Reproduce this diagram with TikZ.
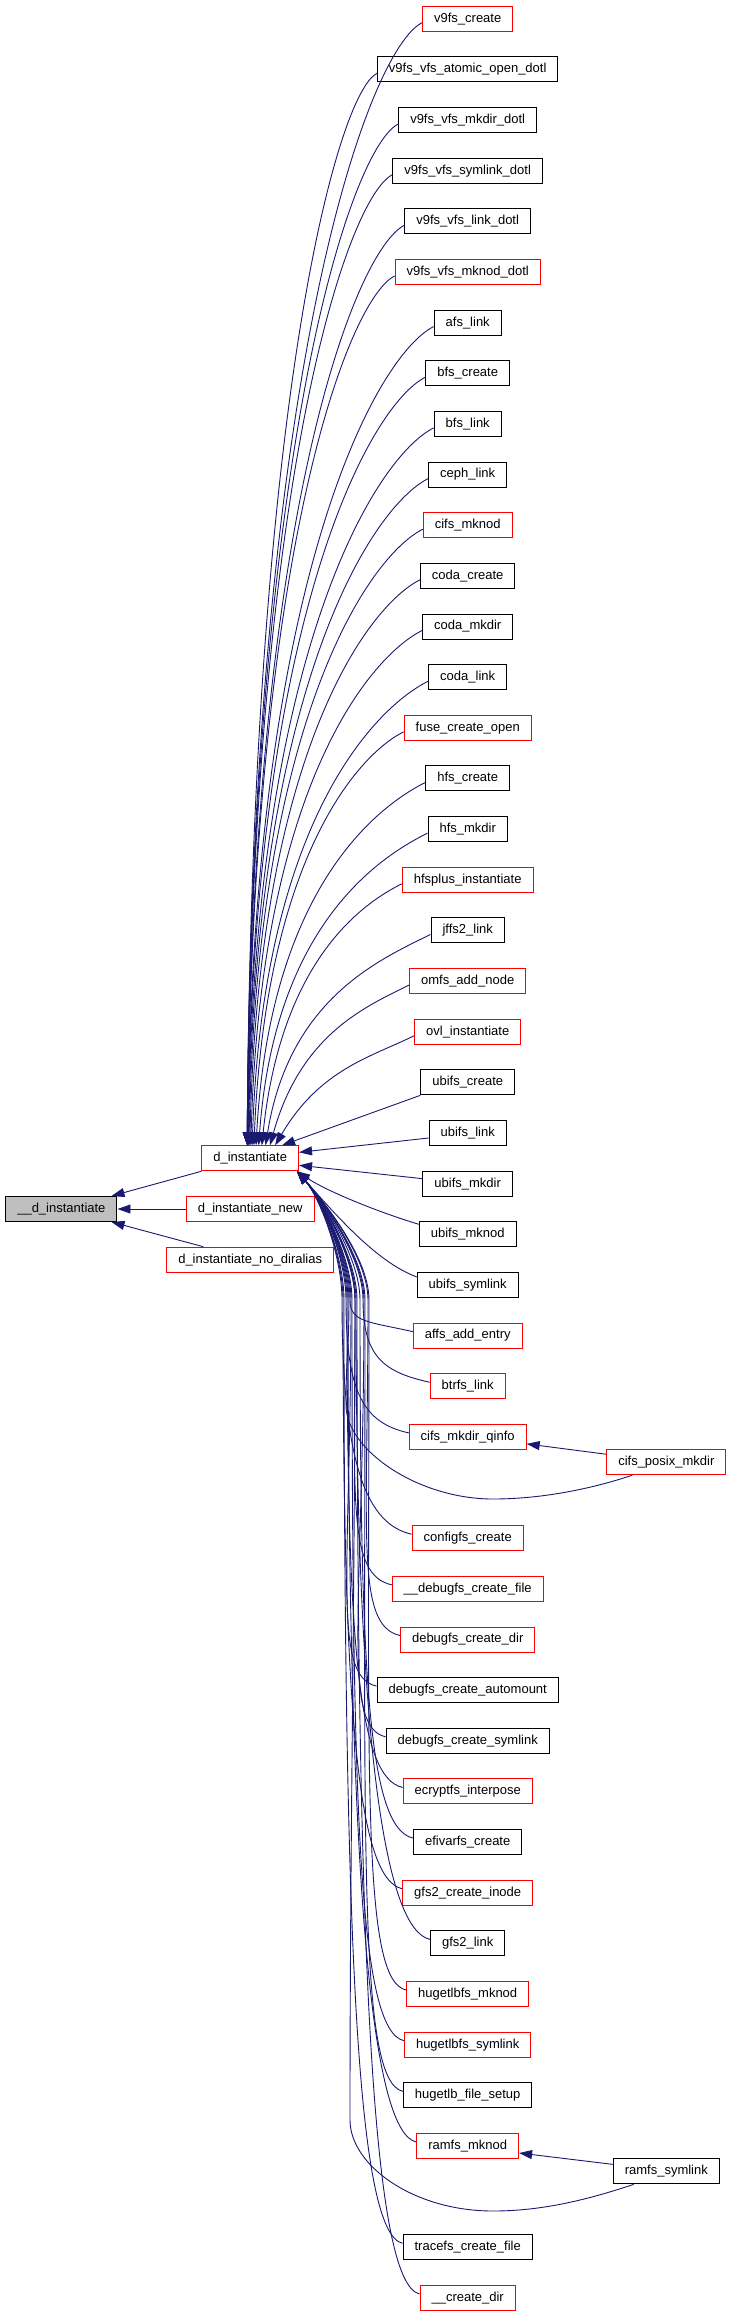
\documentclass[tikz,border=0pt]{standalone}
\usepackage{fontspec}
\setmainfont{Liberation Sans}
\usetikzlibrary{arrows.meta,calc}

\definecolor{callblue}{RGB}{25,25,112}
\definecolor{curgrey}{RGB}{191,191,191}

\tikzset{
  fn/.style={draw=black, fill=white, line width=1pt, inner xsep=11.5pt, inner ysep=0pt,
    minimum height=25pt, font=\fontsize{13}{15}\selectfont},
  fnred/.style={fn, draw=red},
  fncur/.style={fn, fill=curgrey},
  call/.style={draw=callblue, line width=0.9pt, -{Triangle[length=13pt,width=9pt]}},
}

\begin{document}
\begin{tikzpicture}[x=1pt,y=1pt]
\useasboundingbox (0,0) rectangle (732,-2317);

% the function and its direct callers
\node[fncur] (__d_instantiate) at (61.4,-1209) {\_\_d\_instantiate};
\node[fnred] (d_instantiate) at (250.2,-1158.3) {d\_instantiate};
\node[fnred] (d_instantiate_new) at (250.2,-1209) {d\_instantiate\_new};
\node[fnred] (d_instantiate_no_diralias) at (250.2,-1259.7) {d\_instantiate\_no\_diralias};

% callers of d_instantiate, one per row
\foreach \row/\nm/\lbl/\sty in {
  0/v9fs_create/v9fs\_create/fnred,
  1/v9fs_vfs_atomic_open_dotl/v9fs\_vfs\_atomic\_open\_dotl/fn,
  2/v9fs_vfs_mkdir_dotl/v9fs\_vfs\_mkdir\_dotl/fn,
  3/v9fs_vfs_symlink_dotl/v9fs\_vfs\_symlink\_dotl/fn,
  4/v9fs_vfs_link_dotl/v9fs\_vfs\_link\_dotl/fn,
  5/v9fs_vfs_mknod_dotl/v9fs\_vfs\_mknod\_dotl/fnred,
  6/afs_link/afs\_link/fn,
  7/bfs_create/bfs\_create/fn,
  8/bfs_link/bfs\_link/fn,
  9/ceph_link/ceph\_link/fn,
  10/cifs_mknod/cifs\_mknod/fnred,
  11/coda_create/coda\_create/fn,
  12/coda_mkdir/coda\_mkdir/fn,
  13/coda_link/coda\_link/fn,
  14/fuse_create_open/fuse\_create\_open/fnred,
  15/hfs_create/hfs\_create/fn,
  16/hfs_mkdir/hfs\_mkdir/fn,
  17/hfsplus_instantiate/hfsplus\_instantiate/fnred,
  18/jffs2_link/jffs2\_link/fn,
  19/omfs_add_node/omfs\_add\_node/fnred,
  20/ovl_instantiate/ovl\_instantiate/fnred,
  21/ubifs_create/ubifs\_create/fn,
  22/ubifs_link/ubifs\_link/fn,
  23/ubifs_mkdir/ubifs\_mkdir/fn,
  24/ubifs_mknod/ubifs\_mknod/fn,
  25/ubifs_symlink/ubifs\_symlink/fn,
  26/affs_add_entry/affs\_add\_entry/fnred,
  27/btrfs_link/btrfs\_link/fnred,
  28/cifs_mkdir_qinfo/cifs\_mkdir\_qinfo/fnred,
  30/configfs_create/configfs\_create/fnred,
  31/__debugfs_create_file/\_\_debugfs\_create\_file/fnred,
  32/debugfs_create_dir/debugfs\_create\_dir/fnred,
  33/debugfs_create_automount/debugfs\_create\_automount/fn,
  34/debugfs_create_symlink/debugfs\_create\_symlink/fn,
  35/ecryptfs_interpose/ecryptfs\_interpose/fnred,
  36/efivarfs_create/efivarfs\_create/fn,
  37/gfs2_create_inode/gfs2\_create\_inode/fnred,
  38/gfs2_link/gfs2\_link/fn,
  39/hugetlbfs_mknod/hugetlbfs\_mknod/fnred,
  40/hugetlbfs_symlink/hugetlbfs\_symlink/fnred,
  41/hugetlb_file_setup/hugetlb\_file\_setup/fn,
  42/ramfs_mknod/ramfs\_mknod/fnred,
  44/tracefs_create_file/tracefs\_create\_file/fn,
  45/__create_dir/\_\_create\_dir/fnred}{
  \node[\sty] (\nm) at (467.7,{-18.7-50.65*\row}) {\lbl};
}

% second level callers
\node[fnred] (cifs_posix_mkdir) at (666.3,{-18.7-50.65*28.5}) {cifs\_posix\_mkdir};
\node[fn] (ramfs_symlink) at (666.3,{-18.7-50.65*42.5}) {ramfs\_symlink};

% where the lower calls come in
\coordinate (lowin) at ($(d_instantiate.south east)+(-2,0)$);

% edges into __d_instantiate
\draw[call] (d_instantiate.south west) -- ($(__d_instantiate.north east)+(-6,0)$);
\draw[call] (d_instantiate_new.west) -- (__d_instantiate.east);
\draw[call] ($(d_instantiate_no_diralias.north west)+(37,0)$) -- ($(__d_instantiate.south east)+(-6,0)$);

% callers above d_instantiate
\foreach \row/\nm in {0/v9fs_create,1/v9fs_vfs_atomic_open_dotl,2/v9fs_vfs_mkdir_dotl,
  3/v9fs_vfs_symlink_dotl,4/v9fs_vfs_link_dotl,5/v9fs_vfs_mknod_dotl,6/afs_link,
  7/bfs_create,8/bfs_link,9/ceph_link,10/cifs_mknod,11/coda_create,12/coda_mkdir,
  13/coda_link,14/fuse_create_open,15/hfs_create,16/hfs_mkdir,17/hfsplus_instantiate,
  18/jffs2_link,19/omfs_add_node,20/ovl_instantiate}{
  \pgfmathsetmacro\dx{-3+34*(\row/21)^4}
  \draw[call] let \p1=($(\nm.west)+(0,-4)$), \p2=($(d_instantiate.north)+(\dx,0)$),
      \n1={\x1-\x2}, \n2={\y1-\y2}, \n3={min(45,5000/\n2)} in
    (\p1) .. controls ($(\p1)+(-0.3*\n1,-0.15*\n1)$) and ($(\p2)+(\n3,0.7*\n2)$) .. (\p2);
}

% nearly level callers
\draw[call] (ubifs_create.south west) -- ($(d_instantiate.north east)+(-17,0)$);
\draw[call] ($(ubifs_link.west)+(0,-5)$) -- ($(d_instantiate.east)+(0,6)$);
\draw[call] ($(ubifs_mkdir.west)+(0,5)$) -- ($(d_instantiate.east)+(0,-7)$);
\draw[call] ($(ubifs_mknod.west)+(0,10)$) .. controls +(-40,12) and +(30,-20) .. (lowin);
\draw[call] ($(ubifs_symlink.west)+(0,8)$) .. controls +(-40,15) and +(40,-45) .. (lowin);

% callers below d_instantiate, up the bundle right of the left boxes
\foreach \row/\nm in {26/affs_add_entry,27/btrfs_link,28/cifs_mkdir_qinfo,
  30/configfs_create,31/__debugfs_create_file,32/debugfs_create_dir,
  33/debugfs_create_automount,34/debugfs_create_symlink,35/ecryptfs_interpose,
  36/efivarfs_create,37/gfs2_create_inode,38/gfs2_link,39/hugetlbfs_mknod,
  40/hugetlbfs_symlink,41/hugetlb_file_setup,42/ramfs_mknod,44/tracefs_create_file,
  45/__create_dir}{
  \pgfmathsetmacro\wx{342+mod(13*\row,30)}
  \pgfmathsetmacro\sy{-18.7-50.65*\row+4}
  \pgfmathsetmacro\cy{\sy+0.3*(-1300-\sy)}
  \draw[call] ($(\nm.west)+(0,4)$) .. controls +(-45,10) and (\wx,\cy) .. (\wx,-1300)
    .. controls +(0,45) and +(22,-25) .. (lowin);
}

% second level edges
\draw[call] ($(cifs_posix_mkdir.west)+(0,8)$) -- ($(cifs_mkdir_qinfo.east)+(0,-7)$);
\draw[call] ($(cifs_posix_mkdir.south west)+(26,0)$) .. controls +(-45,-15) and +(45,0) .. (493,-1499)
  .. controls +(-75,0) and +(0,-45) .. (346,-1405)
  .. controls +(0,50) and +(0,-50) .. (349,-1300)
  .. controls +(0,45) and +(22,-25) .. (lowin);
\draw[call] ($(ramfs_symlink.west)+(0,7)$) -- ($(ramfs_mknod.east)+(0,-7)$);
\draw[call] ($(ramfs_symlink.south west)+(21,0)$) .. controls +(-45,-15) and +(50,0) .. (493,-2211)
  .. controls +(-80,0) and +(0,-45) .. (350,-2120)
  .. controls +(0,300) and +(0,-300) .. (355,-1300)
  .. controls +(0,45) and +(22,-25) .. (lowin);
\end{tikzpicture}
\end{document}
